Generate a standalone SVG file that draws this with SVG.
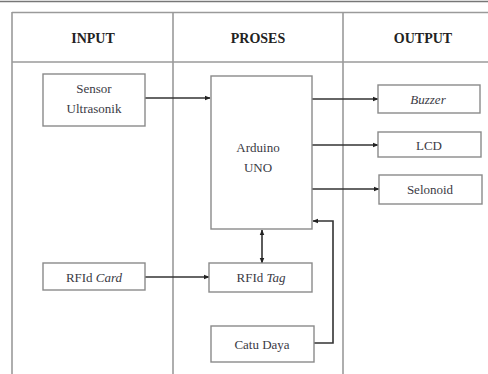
<svg xmlns="http://www.w3.org/2000/svg" width="488" height="374" viewBox="0 0 488 374">
<defs>
<style>
.tbl{stroke:#9a9a9a;stroke-width:1.6;fill:none}
.box{stroke:#8a8a8a;stroke-width:1.4;fill:#fff}
.con{stroke:#333;stroke-width:1.6;fill:none}
text{font-family:"Liberation Serif","Times New Roman",serif;fill:#3a3a44;text-anchor:middle}
.hd{font-weight:bold;font-size:14px;fill:#222}
.t{font-size:13px}
</style>
<marker id="ah" viewBox="0 0 10 10" refX="9" refY="5" markerWidth="6" markerHeight="6" orient="auto-start-reverse" markerUnits="userSpaceOnUse">
<path d="M0,1 L10,5 L0,9 z" fill="#222"/>
</marker>
</defs>
<rect width="488" height="374" fill="#fff"/>
<g id="table">
<line x1="0" y1="1.5" x2="488" y2="1.5" stroke="#777" stroke-width="1.6"/>
<line x1="12" y1="12.5" x2="488" y2="12.5" class="tbl"/>
<line x1="12" y1="62" x2="488" y2="62" class="tbl"/>
<line x1="12" y1="12" x2="12" y2="374" class="tbl"/>
<line x1="173" y1="12" x2="173" y2="374" class="tbl"/>
<line x1="343" y1="12" x2="343" y2="374" class="tbl"/>
<text class="hd" x="93" y="43">INPUT</text>
<text class="hd" x="258" y="43">PROSES</text>
<text class="hd" x="423" y="43">OUTPUT</text>
</g>
<g id="connectors">
<line x1="145" y1="98" x2="210" y2="98" class="con" marker-end="url(#ah)"/>
<line x1="145" y1="277" x2="209" y2="277" class="con" marker-end="url(#ah)"/>
<line x1="312" y1="99" x2="378" y2="99" class="con" marker-end="url(#ah)"/>
<line x1="312" y1="145" x2="378" y2="145" class="con" marker-end="url(#ah)"/>
<line x1="312" y1="189" x2="379" y2="189" class="con" marker-end="url(#ah)"/>
<line x1="262" y1="230" x2="262" y2="263" class="con" marker-start="url(#ah)" marker-end="url(#ah)"/>
<polyline points="314,343 333,343 333,221 313,221" class="con" marker-end="url(#ah)"/>
</g>
<g id="sensor">
<rect x="43" y="74" width="102" height="52" class="box"/>
<text class="t" x="94" y="93">Sensor</text>
<text class="t" x="94" y="113">Ultrasonik</text>
</g>
<g id="rfid-card">
<rect x="43" y="263" width="102" height="27" class="box"/>
<text class="t" x="94" y="281.5">RFId <tspan font-style="italic">Card</tspan></text>
</g>
<g id="arduino">
<rect x="211" y="76" width="101" height="153" class="box"/>
<text class="t" x="258" y="151.5">Arduino</text>
<text class="t" x="258" y="171.5">UNO</text>
</g>
<g id="rfid-tag">
<rect x="209" y="263" width="103" height="29" class="box"/>
<text class="t" x="261" y="282">RFId <tspan font-style="italic">Tag</tspan></text>
</g>
<g id="catu-daya">
<rect x="211" y="326" width="103" height="36" class="box"/>
<text class="t" x="262" y="348.5">Catu Daya</text>
</g>
<g id="buzzer">
<rect x="378" y="85" width="102" height="28" class="box"/>
<text class="t" x="428" y="103.5" font-style="italic">Buzzer</text>
</g>
<g id="lcd">
<rect x="378" y="132" width="103" height="25" class="box"/>
<text class="t" x="429" y="149.5">LCD</text>
</g>
<g id="selonoid">
<rect x="379" y="175" width="103" height="29" class="box"/>
<text class="t" x="430" y="193.5">Selonoid</text>
</g>
</svg>
